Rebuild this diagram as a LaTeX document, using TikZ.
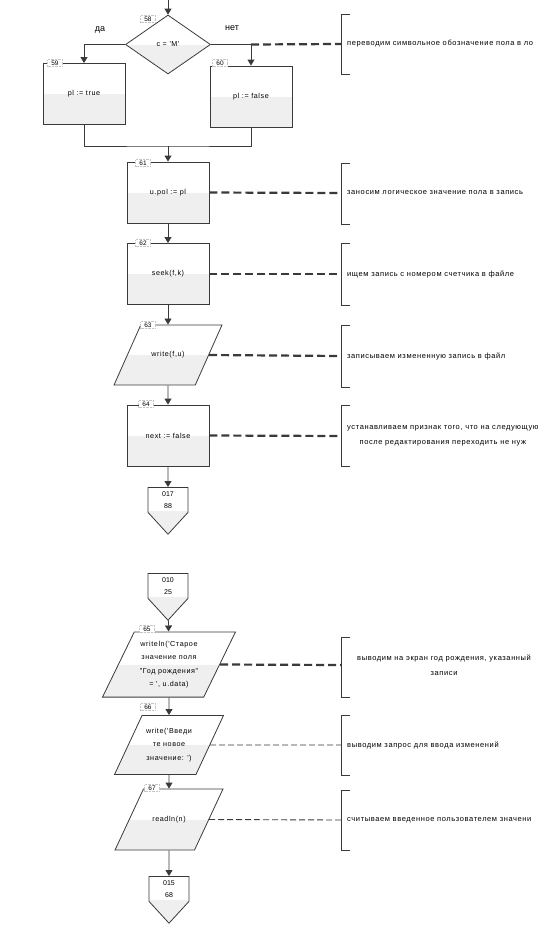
\documentclass[tikz,border=0pt]{standalone}
\usepackage{fontspec}
\setmainfont{Liberation Sans}
\newfontfamily\spacedfamily[LetterSpace=8]{Liberation Sans}
\usetikzlibrary{shapes.geometric,shapes.symbols,arrows.meta,positioning}

\definecolor{linec}{HTML}{3A3A3A}
\definecolor{fillc}{HTML}{EFEFEF}
\newcommand{\blockfont}{\spacedfamily\fontsize{7.2}{13.5}\selectfont}
\newcommand{\notefont}{\spacedfamily\fontsize{7.5}{15}\selectfont}

\tikzset{
  flow/.style={draw=linec, line width=0.9pt, -{Triangle[width=7pt,length=6pt]}},
  link/.style={draw=linec, line width=0.9pt},
  halfgray/.style={fill=white, path picture={\fill[fillc] (path picture bounding box.west) rectangle (path picture bounding box.south east);}},
  proc/.style={halfgray, draw=linec, line width=0.9pt, minimum width=82, minimum height=61, inner sep=1pt, font=\blockfont},
  cond/.style={halfgray, diamond, draw=linec, line width=0.8pt, minimum width=85, minimum height=59, inner sep=0pt, font=\blockfont},
  io/.style={halfgray, trapezium, trapezium left angle=66, trapezium right angle=114, trapezium stretches body,
    draw=linec, line width=0.8pt, minimum width=108, inner xsep=1pt, align=center, font=\blockfont},
  offpage/.style={halfgray, signal, signal to=south, signal from=nowhere, signal pointer angle=85,
    draw=linec, line width=0.8pt, minimum width=40, inner xsep=2pt, inner ysep=4pt, align=center, font=\fontsize{7}{12}\selectfont},
  tag/.style={fill=white, draw=gray!45, densely dotted, inner sep=1.2pt, minimum width=15, font=\fontsize{6.5}{7}\selectfont},
  branch/.style={font=\fontsize{9}{10}\selectfont},
  note/.style={draw=linec, line width=2.2pt, dash pattern=on 8pt off 4pt},
  thinnote/.style={draw=linec, line width=0.9pt, dash pattern=on 6pt off 3pt},
  notebracket/.style={draw=linec, line width=0.7pt},
  notetext/.style={anchor=west, align=center, inner sep=0pt, font=\notefont}
}

\begin{document}
\begin{tikzpicture}[x=1pt,y=-1pt]
\useasboundingbox (0,0) rectangle (538,930);

% first page of the chart
\coordinate (in58) at (168,0);
\node[cond] (d58) at (168,44.5) {c = 'M'};
\node[proc] (b59) at (84,94) {pl := true};
\node[proc] (b60) at (251,96.5) {pl := false};
\node[branch] (yes) at (100,30) {да};
\node[branch] (no) at (232,28) {нет};
\coordinate (m60) at (168,146);
\node[proc] (b61) at (168,192.5) {u.pol := pl};
\node[proc] (b62) at (168,274) {seek(f,k)};
\node[io, inner ysep=26.7pt] (p63) at (168,355) {write(f,u)};
\node[proc] (b64) at (168,435.5) {next := false};
\node[offpage, anchor=north] (off88) at (168,487) {017\\88};

% second page of the chart
\node[offpage, anchor=north] (on25) at (168,573) {010\\25};
\node[io, trapezium left angle=64, trapezium right angle=116, minimum width=133, inner ysep=9pt] (p65) at (169,664.5)
  {writeln('Старое\\значение поля\\"Год рождения"\\= ', u.data)};
\node[io, trapezium left angle=65, trapezium right angle=115, minimum width=109, inner ysep=12.7pt] (p66) at (169,745)
  {write('Введи\\те новое\\значение: ')};
\node[io, trapezium left angle=65, trapezium right angle=115, minimum width=108, inner ysep=27.2pt] (p67) at (169,819.5) {readln(n)};
\node[offpage, anchor=north] (off68) at (169,876) {015\\68};

% block numbers
\node[tag] (n58) at (148,19) {58};
\node[tag] (n59) at (55,63) {59};
\node[tag] (n60) at (220,63) {60};
\node[tag] (n61) at (143,163) {61};
\node[tag] (n62) at (143,243) {62};
\node[tag] (n63) at (148,325) {63};
\node[tag] (n64) at (146,404) {64};
\node[tag] (n65) at (147,629) {65};
\node[tag] (n66) at (148,707) {66};
\node[tag] (n67) at (152,788) {67};

% connectors
\draw[flow] (in58) -- (d58.north);
\draw[flow] (d58.west) -| (b59.north);
\draw[flow] (d58.east) -| (b60.north);
\draw[link] (b59.south) |- (m60) -| (b60.south);
\draw[flow] (m60) -- (b61.north);
\draw[flow] (b61) -- (b62);
\draw[flow] (b62) -- (p63);
\draw[flow] (p63) -- (b64);
\draw[flow] (b64) -- (off88);
\draw[flow] (on25) -- (p65);
\draw[flow] (p65) -- (p66);
\draw[flow] (p66) -- (p67);
\draw[flow] (p67) -- (off68);

% comments
\coordinate (k58) at (341,44);
\coordinate (k61) at (341,193);
\coordinate (k62) at (341,274);
\coordinate (k63) at (341,356);
\coordinate (k64) at (341,436);
\coordinate (k65) at (341,665);
\coordinate (k66) at (341,745);
\coordinate (k67) at (341,820);
\foreach \k/\top/\bot in {58/14/74, 61/163/224, 62/243/305, 63/325/387, 64/405/466, 65/637/697, 66/715/775, 67/790/850}
  \draw[notebracket] (350,\top) -| (341,\bot) -- (350,\bot);

\draw[note] (b60.north |- d58.east) -- (k58);
\draw[note] (b61.east) -- (k61);
\draw[note] (b62.east) -- (k62);
\draw[note] (p63.east) -- (k63);
\draw[note] (b64.east) -- (k64);
\draw[note] (p65.east) -- (k65);
\draw[thinnote] (p66.east) -- (k66);
\draw[thinnote] (p67.east) -- (k67);

\node[notetext] (t58) at (347,44) {переводим символьное обозначение пола в ло};
\node[notetext] (t61) at (347,193) {заносим логическое значение пола в запись};
\node[notetext] (t62) at (347,274) {ищем запись с номером счетчика в файле};
\node[notetext] (t63) at (347,356) {записываем измененную запись в файл};
\node[notetext] (t64) at (347,436) {устанавливаем признак того, что на следующую\\после редактирования переходить не нуж};
\node[notetext] (t65) at (357,665) {выводим на экран год рождения, указанный\\записи};
\node[notetext] (t66) at (347,745) {выводим запрос для ввода изменений};
\node[notetext] (t67) at (347,820) {считываем введенное пользователем значени};
\end{tikzpicture}
\end{document}
